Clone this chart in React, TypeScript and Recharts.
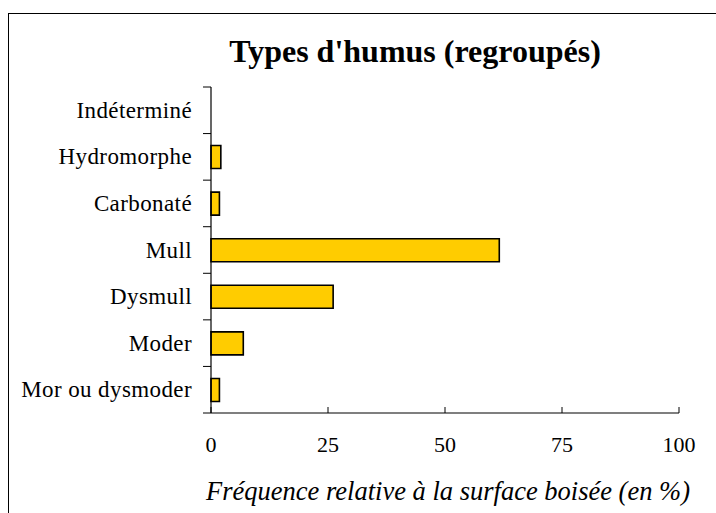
import React from 'react';
import { BarChart, Bar, XAxis, YAxis } from 'recharts';

const categories = ['Indéterminé', 'Hydromorphe', 'Carbonaté', 'Mull', 'Dysmull', 'Moder', 'Mor ou dysmoder'];
const frequencies = [0, 2.1, 1.8, 61.6, 26.1, 6.9, 1.8];
const xTicks = [0, 25, 50, 75, 100];

const data = categories.map((name, i) => ({ name, value: frequencies[i] }));

const W = 716;
const H = 513;
const margin = { top: 87, right: 37, bottom: 90, left: 201 };
const plotH = 413 - 87;
const band = plotH / categories.length;
const serif = '"Liberation Serif", "Times New Roman", serif';

const YTick = (props: any) => {
  const { x, y, payload, index } = props;
  return (
    <g>
      <text
        x={x - 19}
        y={y}
        textAnchor="end"
        dominantBaseline="central"
        fontFamily={serif}
        fontSize={23}
        letterSpacing={0.4}
        fill="#000"
      >
        {payload.value}
      </text>
      {index === 0 && <line x1={x - 8} x2={x} y1={y - band / 2} y2={y - band / 2} stroke="#000" />}
      <line x1={x - 8} x2={x} y1={y + band / 2} y2={y + band / 2} stroke="#000" />
    </g>
  );
};

const XTick = (props: any) => {
  const { x, y, payload } = props;
  return (
    <g>
      <line x1={x} x2={x} y1={y} y2={y - 6} stroke="#000" />
      <text x={x} y={y + 39} textAnchor="middle" fontFamily={serif} fontSize={22} fill="#000">
        {payload.value}
      </text>
    </g>
  );
};

export default function App() {
  return (
    <div style={{ position: 'absolute', left: 0, top: 0, width: W, height: H, overflow: 'hidden', background: '#fff' }}>
      <div
        style={{
          position: 'absolute',
          left: 8,
          top: 13,
          width: 760,
          height: 560,
          border: '1.5px solid #000',
        }}
      />
      <div
        style={{
          position: 'absolute',
          left: 215,
          width: 400,
          top: 35,
          textAlign: 'center',
          fontFamily: serif,
          fontWeight: 'bold',
          fontSize: 32,
          lineHeight: '32px',
          whiteSpace: 'nowrap',
        }}
      >
        Types d'humus (regroupés)
      </div>
      <div
        style={{
          position: 'absolute',
          left: 148,
          width: 600,
          top: 478,
          textAlign: 'center',
          fontFamily: serif,
          fontStyle: 'italic',
          fontSize: 26.5,
          lineHeight: '26px',
          whiteSpace: 'nowrap',
        }}
      >
        Fréquence relative à la surface boisée (en %)
      </div>
      <div style={{ position: 'absolute', left: 0, top: 0 }}>
        <BarChart width={W} height={H} layout="vertical" data={data} margin={margin}>
          <XAxis
            type="number"
            domain={[0, 100]}
            ticks={xTicks}
            height={10}
            tickSize={0}
            tickMargin={0}
            tickLine={false}
            axisLine={{ stroke: '#000', strokeWidth: 1.2 }}
            tick={<XTick />}
            interval={0}
          />
          <YAxis
            type="category"
            dataKey="name"
            width={10}
            tickSize={0}
            tickMargin={0}
            tickLine={false}
            axisLine={{ stroke: '#000', strokeWidth: 1.2 }}
            tick={<YTick />}
            interval={0}
          />
          <Bar dataKey="value" fill="#FFCC00" stroke="#000" strokeWidth={1.6} barSize={23} isAnimationActive={false} />
        </BarChart>
      </div>
    </div>
  );
}
